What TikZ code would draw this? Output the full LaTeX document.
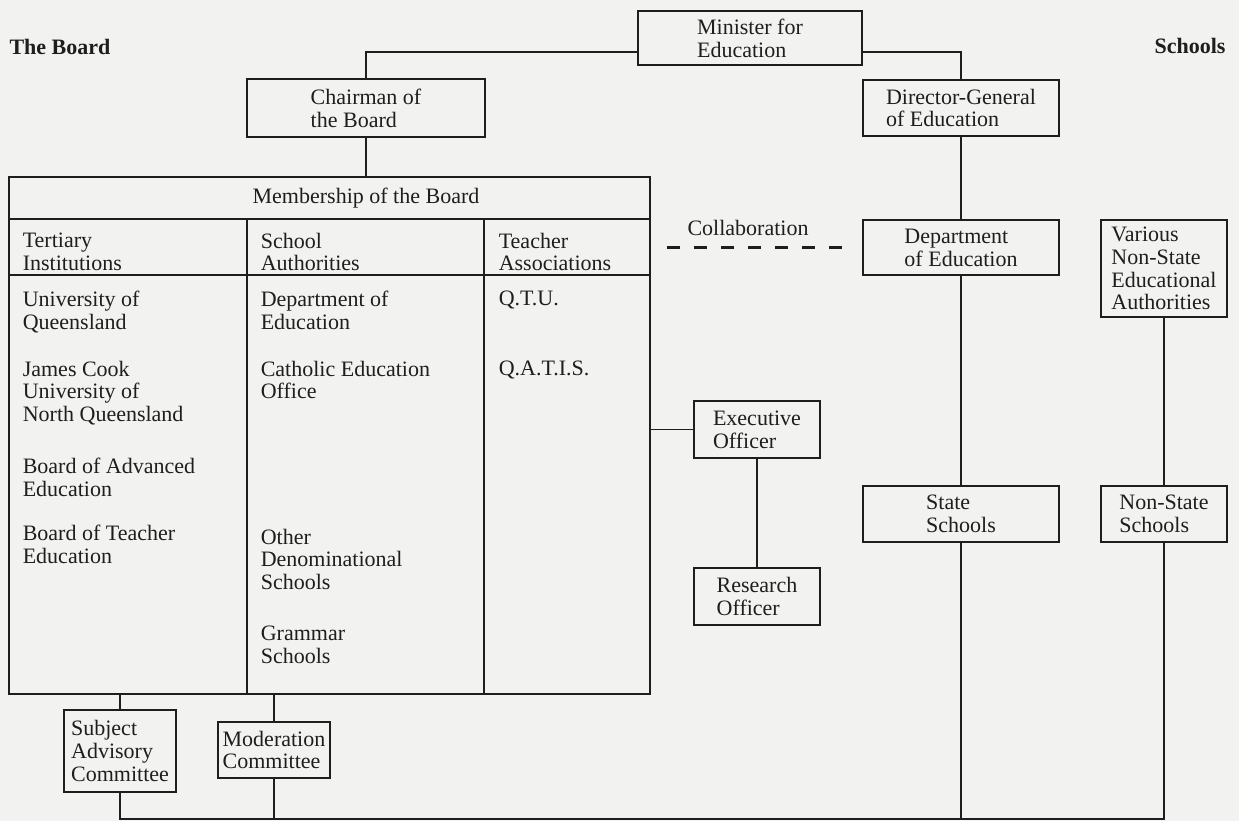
\documentclass[tikz,border=0pt]{standalone}
\usepackage{fontspec}
\setmainfont{Liberation Serif}
\usepackage{tikz}
\usetikzlibrary{positioning}

\definecolor{paper}{RGB}{242,242,240}
\definecolor{ink}{RGB}{30,30,30}

\begin{document}
\begin{tikzpicture}[x=0.5pt,y=-0.5pt,line width=0.8pt,ink,
    font=\fontsize{11}{11.4}\selectfont,
    box/.style={draw,align=left,inner sep=0pt},
    entry/.style={anchor=north west,align=left,inner sep=0pt},
    side/.style={font=\fontsize{11}{11.4}\selectfont\bfseries},
    collab/.style={line width=1.2pt,dash pattern=on 6.5pt off 7pt}]

      \path[fill=paper,use as bounding box] (0,0) rectangle (1239,821);

      % headings
      \node[side] (boardhd) at (60,47) {The Board};
      \node[side] (schoolhd) at (1190,46) {Schools};

      % top of the chart
      \node[box,minimum width=112pt,minimum height=27pt] (minister) at (750,38) {Minister for\\Education};
      \node[box,minimum width=119pt,minimum height=29pt] (chairman) at (366,108) {Chairman of\\the Board};
      \node[box,minimum width=98pt,minimum height=28pt] (director) at (961,108) {Director-General\\of Education};
      \node[box,minimum width=98pt,minimum height=27.5pt] (dept) at (961,247.5) {Department\\of Education};
      \node[box,minimum width=63pt,minimum height=48.5pt] (various) at (1164,268.5) {Various\\Non-State\\Educational\\Authorities};
      \node[box,minimum width=98pt,minimum height=28pt] (state) at (961,514) {State\\Schools};
      \node[box,minimum width=63pt,minimum height=28pt] (nonstate) at (1164,514) {Non-State\\Schools};

      % the board table
      \node[draw,minimum width=320.5pt,minimum height=258.5pt] (board) at (329.5,435.5) {};
      \node (title) at (366,198) {Membership of the Board};
      \draw (board.west |- 0,219) -- (board.east |- 0,219)
      (board.west |- 0,275) -- (board.east |- 0,275)
      (247,219) -- (247,0 |- board.south)
      (484,219) -- (484,0 |- board.south);

      \node[entry] (tert) at (22,232) {Tertiary\\Institutions};
      \node[entry] (auth) at (260,232) {School\\Authorities};
      \node[entry] (assoc) at (498,232) {Teacher\\Associations};

      \node[entry] (uq) at (22,290) {University of\\Queensland};
      \node[entry] (jcu) at (22,360) {James Cook\\University of\\North Queensland};
      \node[entry] (bae) at (22,457) {Board of Advanced\\Education};
      \node[entry] (bte) at (22,524) {Board of Teacher\\Education};

      \node[entry] (doe) at (260,290) {Department of\\Education};
      \node[entry] (ceo) at (260,360) {Catholic Education\\Office};
      \node[entry] (other) at (260,528) {Other\\Denominational\\Schools};
      \node[entry] (grammar) at (260,625) {Grammar\\Schools};

      \node[entry] (qtu) at (498,290) {Q.T.U.};
      \node[entry] (qatis) at (498,360) {Q.A.T.I.S.};

      % officers and committees
      \node[box,minimum width=63pt,minimum height=28.5pt] (exec) at (757,429.5) {Executive\\Officer};
      \node[box,minimum width=63pt,minimum height=28.5pt] (research) at (757,596.5) {Research\\Officer};
      \node[box,minimum width=56pt,minimum height=41pt] (subject) at (120,751) {Subject\\Advisory\\Committee};
      \node[box,minimum width=56pt,minimum height=28pt] (moder) at (274,750) {Moderation\\Committee};

      % connections
      \draw (minister.187) -| (chairman.north);
      \draw (minister.353) -| (director.north);
      \draw (chairman.south) -- (chairman.south |- board.north);
      \draw (director.south) -- (dept.north);
      \draw (dept.south) -- (state.north);
      \draw (various.south) -- (nonstate.north);
      \draw (exec.west) -- (exec.west -| board.east);
      \draw (exec.south) -- (research.north);
      \draw (subject.north |- board.south) -- (subject.north);
      \draw (moder.north |- board.south) -- (moder.north);

      \coordinate (bus) at (0,819);
      \draw (subject.south) -- (subject.south |- bus) -- (nonstate.south |- bus) -- (nonstate.south);
      \draw (moder.south) -- (moder.south |- bus);
      \draw (state.south) -- (state.south |- bus);

      \draw[collab,shorten <=8pt,shorten >=7pt] (board.east |- dept.west) -- (dept.west);
      \node (collabel) at (748,228) {Collaboration};

    \end{tikzpicture}
\end{document}
